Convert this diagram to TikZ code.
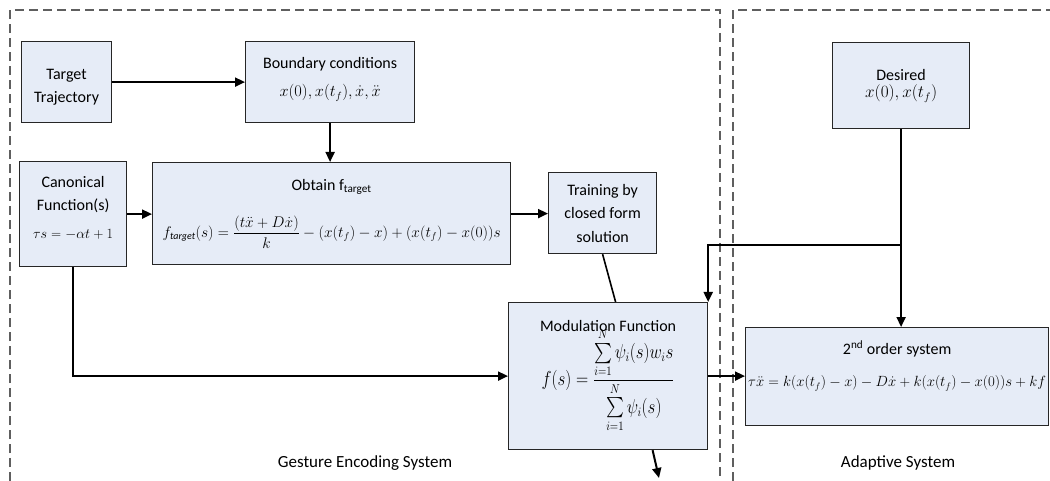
\documentclass[tikz,border=0pt]{standalone}
\usepackage{fontspec}
\setmainfont{Carlito}
\usepackage{amsmath}
\usepackage{graphicx}
\usetikzlibrary{arrows.meta}

\definecolor{boxfill}{RGB}{230,236,247}
\definecolor{framegray}{RGB}{95,95,95}

\tikzset{
  block/.style={draw=black!85, line width=1.2pt, fill=boxfill, anchor=north west,
    inner sep=0pt, align=center, font=\fontsize{16}{23.5}\selectfont},
  flow/.style={line width=2pt, -{Triangle[length=10pt,width=9pt]}},
  link/.style={line width=1.6pt},
  region/.style={draw=framegray, line width=1.2pt, dash pattern=on 9pt off 5pt},
  caption/.style={font=\fontsize{17}{20}\selectfont}
}

\begin{document}
\begin{tikzpicture}[x=1pt,y=-1pt]
\useasboundingbox (0,0) rectangle (1050,481);

% system frames
\draw[region] (10,481) -- (10,10) -- (720,10) -- (720,481);
\draw[region] (733,481) -- (733,10) -- (1052,10);

% blocks
\node[block, minimum width=90pt, minimum height=81pt, text height=44pt] (traj) at (21,41)
  {Target\\Trajectory};
\node[block, minimum width=169pt, minimum height=81pt, text depth=10pt] (bound) at (245,41)
  {Boundary conditions\\[5pt]\resizebox{101pt}{!}{$x(0), x(t_f), \dot{x}, \ddot{x}$}};
\node[block, minimum width=107pt, minimum height=105pt, text depth=14pt] (canon) at (19,161)
  {Canonical\\Function(s)\\[4pt]\resizebox{80pt}{!}{$\tau s = -\alpha t + 1$}};
\node[block, minimum width=358pt, minimum height=102pt] (obtain) at (152,162)
  {Obtain f\textsubscript{target}\\[20pt]\resizebox{338pt}{!}{$f_{\mathit{target}}(s) = \dfrac{(t\ddot{x} + D\dot{x})}{k} - (x(t_f) - x) + (x(t_f) - x(0))s$}};
\node[block, minimum width=108pt, minimum height=81pt] (train) at (548,172)
  {Training by\\closed form\\solution};
\node[block, minimum width=199pt, minimum height=147pt] (modul) at (508,302)
  {Modulation Function\\[-4pt]\resizebox*{133pt}{104pt}{$f(s) = \dfrac{\sum\limits_{i=1}^{N}\psi_i(s) w_i s}{\sum\limits_{i=1}^{N}\psi_i(s)}$}};
\node[block, minimum width=137pt, minimum height=86pt] (desired) at (832,42)
  {Desired\\[-6pt]\resizebox{72pt}{!}{$x(0), x(t_f)$}};
\node[block, minimum width=303pt, minimum height=98pt, text depth=26pt] (order) at (745,327)
  {2\textsuperscript{nd} order system\\[9pt]\resizebox{298pt}{!}{$\tau\ddot{x} = k(x(t_f) - x) - D\dot{x} + k(x(t_f) - x(0))s + kf$}};

% captions
\node[caption] (gesture) at (365,463) {Gesture Encoding System};
\node[caption] (adaptive) at (898,463) {Adaptive System};

% connectors
\draw[flow] (traj.east) -- (bound.west);
\draw[flow] (bound.south) -- (bound.south |- obtain.north);
\draw[flow] (canon.east) -- (canon.east -| obtain.west);
\draw[flow] (obtain.east) -- (obtain.east -| train.west);
\draw[link] (train.south) -- ([xshift=7.5pt]modul.north);
\draw[flow] (canon.south) |- (modul.west);
\draw[flow] (desired.south) -- (desired.south |- order.north);
\coordinate (split) at (desired.south |- 0,245);
\draw[flow] (split) -| (modul.north east);
\draw[flow] (modul.east) -- (modul.east -| order.west);
\coordinate (outlet) at (659,478);
\draw[flow] ([xshift=44.5pt]modul.south) -- (outlet);
\end{tikzpicture}
\end{document}
